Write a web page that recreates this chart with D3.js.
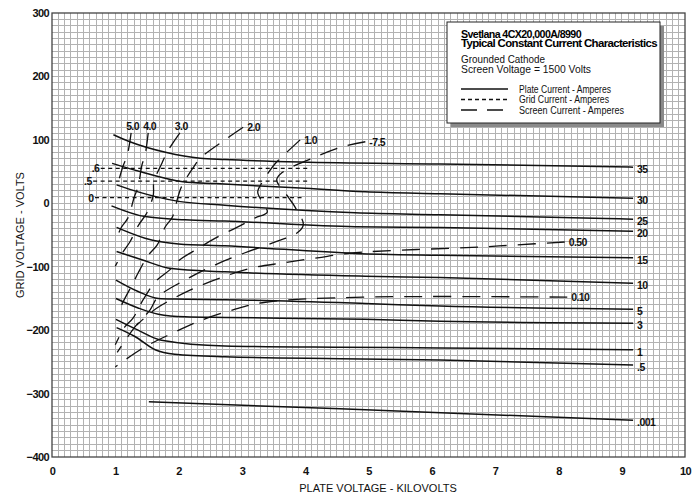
<!DOCTYPE html>
<html>
<head>
<meta charset="utf-8">
<style>
  body { margin: 0; background: #fff; }
  svg { display: block; }
  .bold-narrow { font-family: 'Liberation Sans', Arial, sans-serif; font-weight: bold; letter-spacing: -0.6px; }
  .axis text { font-family: 'Liberation Sans', Arial, sans-serif; font-weight: bold; font-size: 11px; letter-spacing: -0.6px; fill: #111; }
  .axis .domain { display: none; }
  .axis-title { font-family: 'Liberation Sans', Arial, sans-serif; font-size: 11px; fill: #111; }
  .curve-label { font-size: 10.5px; fill: #111; }
  .legend-text { font-family: 'Liberation Sans', Arial, sans-serif; font-size: 10.5px; fill: #111; }
  .legend-item { font-family: 'Liberation Sans', Arial, sans-serif; font-size: 10px; fill: #111; }
</style>
</head>
<body>
<svg width="695" height="496"></svg>
<script src="https://d3js.org/d3.v7.min.js"></script>
<script>
// axis ticks
const xTicks = [0, 1, 2, 3, 4, 5, 6, 7, 8, 9, 10];
const yTicks = [300, 200, 100, 0, -100, -200, -300, -400];

// plate current curves, [kilovolts, grid volts], labelled at right end
const plateLabels = ["35", "30", "25", "20", "15", "10", "5", "3", "1", ".5", ".001"];
const plateCurves = [
  [[0.97, 108], [1.23, 97], [1.81, 80], [2.34, 71], [2.73, 69], [3.92, 65], [6.13, 62], [9.18, 57]],
  [[0.95, 63], [1.39, 50], [2.07, 34], [2.58, 31], [3.92, 24], [4.95, 18], [6.13, 15], [9.18, 8]],
  [[1.02, 29], [1.36, 18], [2.0, 3], [2.73, -3], [4.79, -15], [6.13, -18], [8.74, -24], [9.18, -25]],
  [[0.94, -4], [1.47, -21], [2.1, -26], [2.73, -28], [4.79, -37], [6.13, -38], [9.18, -44]],
  [[1.02, -38], [1.47, -55], [2.0, -64], [2.73, -67], [4.79, -79], [6.13, -82], [9.18, -86]],
  [[1.02, -76], [1.42, -89], [1.89, -103], [2.73, -108], [4.95, -115], [6.13, -117], [9.18, -126]],
  [[1.01, -121], [1.36, -139], [1.68, -150], [1.94, -151], [2.73, -152], [4.95, -158], [6.13, -162], [9.18, -167]],
  [[1.01, -150], [1.36, -165], [1.68, -175], [2.1, -179], [2.73, -180], [4.95, -183], [6.13, -186], [9.18, -189]],
  [[1.01, -183], [1.36, -200], [1.73, -216], [2.73, -225], [4.55, -227], [6.13, -228], [9.18, -231]],
  [[1.02, -196], [1.31, -210], [1.63, -231], [1.94, -238], [2.73, -242], [4.55, -245], [6.13, -247], [9.18, -255]],
  [[1.53, -313], [4.55, -324], [9.18, -342]]
];

// grid current curves (short dash)
const gridLabels = [".6", ".5", "0"];
const gridCurves = [
  [[0.77, 55], [4.09, 55]],
  [[0.65, 35], [4.04, 35]],
  [[0.68, 9], [3.97, 9]]
];

// screen current curves (long dash)
const screenLabels = ["5.0", "4.0", "3.0", "2.0", "1.0", "-7.5", "0.50", "0.10"];
const screenCurves = [
  [[1.25, 111], [1.19, 76], [1.12, 58], [1.03, 27]],
  [[1.52, 111], [1.47, 76], [1.42, 60], [1.36, 26], [1.30, 10], [1.20, -23], [1.09, -39], [1.0, -61]],
  [[2.02, 111], [1.82, 81], [1.74, 64], [1.61, 34], [1.60, 13], [1.50, -15], [1.37, -34], [1.23, -61], [1.12, -77], [1.0, -99]],
  [[3.02, 120], [2.73, 100], [2.34, 71], [2.23, 56], [2.05, 27], [1.99, 10], [1.90, -22], [1.79, -37], [1.66, -66], [1.52, -82], [1.36, -110], [1.28, -126], [1.12, -156], [1.03, -176]],
  [[3.92, 100], [3.63, 73], [3.52, 62], [3.32, 33], [3.25, 18], [3.32, 2], [3.40, -14], [3.21, -23], [2.92, -38], [2.58, -55], [2.31, -71], [2.02, -89], [1.86, -105], [1.63, -124], [1.44, -152], [1.28, -181], [1.15, -195], [1.0, -223]],
  [[4.95, 97], [4.58, 89], [4.11, 71], [3.63, 48], [3.55, 37], [3.73, 10], [3.84, -6], [3.97, -34], [3.87, -47], [3.55, -60], [3.05, -78], [2.58, -97], [2.10, -121], [1.67, -148], [1.55, -168], [1.31, -195], [1.03, -235]],
  [[8.10, -61], [7.27, -66], [6.76, -69], [4.79, -78], [4.19, -86], [3.65, -94], [3.16, -102], [2.65, -118], [2.18, -137], [1.74, -160], [1.55, -173], [1.34, -192]],
  [[8.14, -148], [4.91, -148], [3.37, -156], [2.86, -168], [2.37, -184], [1.90, -205], [1.44, -228], [1.0, -258]]
];

const svg = d3.select("svg");
const margin = { top: 13, right: 10, bottom: 39, left: 52 };
const width = 695, height = 496;

const x = d3.scaleLinear().domain([0, 10]).range([margin.left, width - margin.right]);
const y = d3.scaleLinear().domain([-400, 300]).range([height - margin.bottom, margin.top]);

// graph paper grid
const grid = svg.append("g").attr("class", "grid")
  .attr("stroke", "#b2b2b2").attr("stroke-width", 1).attr("shape-rendering", "crispEdges");

grid.selectAll(".v").data(d3.range(1, 100)).join("line")
  .attr("x1", d => x(d / 10)).attr("x2", d => x(d / 10))
  .attr("y1", y(300)).attr("y2", y(-400));

grid.selectAll(".h").data(d3.range(-39, 30)).join("line")
  .attr("x1", x(0)).attr("x2", x(10))
  .attr("y1", d => y(d * 10)).attr("y2", d => y(d * 10));

svg.append("rect")
  .attr("x", x(0)).attr("y", y(300))
  .attr("width", x(10) - x(0)).attr("height", y(-400) - y(300))
  .attr("fill", "none").attr("stroke", "#444").attr("stroke-width", 1.3);

// axes
svg.append("g").attr("class", "axis")
  .attr("transform", `translate(${x(0)},0)`)
  .call(d3.axisLeft(y).tickValues(yTicks).tickSize(0).tickPadding(3).tickFormat(d3.format("d")));

svg.append("g").attr("class", "axis")
  .attr("transform", `translate(0,${y(-400)})`)
  .call(d3.axisBottom(x).tickValues(xTicks).tickSize(0).tickPadding(10).tickFormat(d3.format("d")));

svg.append("text").attr("class", "axis-title")
  .attr("transform", `translate(24,${y(-50)}) rotate(-90)`)
  .attr("text-anchor", "middle")
  .text("GRID VOLTAGE - VOLTS");

svg.append("text").attr("class", "axis-title")
  .attr("x", 378).attr("y", 492)
  .attr("text-anchor", "middle")
  .text("PLATE VOLTAGE - KILOVOLTS");

// curves
const smooth = d3.line().x(d => x(d[0])).y(d => y(d[1])).curve(d3.curveMonotoneX);
const bendy = d3.line().x(d => x(d[0])).y(d => y(d[1])).curve(d3.curveCatmullRom.alpha(0.5));

svg.append("g").selectAll("path").data(gridCurves).join("path")
  .attr("d", bendy)
  .attr("fill", "none").attr("stroke", "#111").attr("stroke-width", 1.2)
  .attr("stroke-dasharray", "4,3.5");

svg.append("g").selectAll("path").data(screenCurves).join("path")
  .attr("d", bendy)
  .attr("fill", "none").attr("stroke", "#111").attr("stroke-width", 1.3)
  .attr("stroke-dasharray", "18,11");

svg.append("g").selectAll("path").data(plateCurves).join("path")
  .attr("d", smooth)
  .attr("fill", "none").attr("stroke", "#111").attr("stroke-width", 1.5);

// curve labels
svg.append("g").selectAll("text").data(plateCurves).join("text")
  .attr("class", "curve-label bold-narrow")
  .attr("x", d => x(d[d.length - 1][0]) + 4)
  .attr("y", d => y(d[d.length - 1][1]) + 6)
  .text((d, i) => plateLabels[i]);

svg.append("g").selectAll("text").data(gridCurves).join("text")
  .attr("class", "curve-label bold-narrow")
  .attr("text-anchor", "end")
  .attr("x", d => x(d[0][0]) - 1.5)
  .attr("y", d => y(d[0][1]) + 4)
  .text((d, i) => gridLabels[i]);

svg.append("g").selectAll("text").data(screenCurves).join("text")
  .attr("class", "curve-label bold-narrow")
  .attr("x", (d, i) => i < 3 ? x(d[0][0]) - 5 : x(d[0][0]) + 4)
  .attr("y", (d, i) => i < 3 ? y(d[0][1]) - 3 : y(d[0][1]) + 4)
  .text((d, i) => screenLabels[i]);

// legend box
const lg = svg.append("g").attr("transform", "translate(447,22)");
lg.append("rect").attr("x", 4).attr("y", 4).attr("width", 213).attr("height", 101).attr("fill", "#8a8a8a");
lg.append("rect").attr("width", 213).attr("height", 101).attr("fill", "#fff").attr("stroke", "#222").attr("stroke-width", 1);

lg.append("text").attr("class", "bold-narrow").attr("x", 14).attr("y", 15.5).attr("font-size", "10.5px")
  .attr("textLength", 120).attr("lengthAdjust", "spacingAndGlyphs")
  .text("Svetlana 4CX20,000A/8990");
lg.append("text").attr("class", "bold-narrow").attr("x", 14).attr("y", 25).attr("font-size", "10.5px")
  .attr("textLength", 196).attr("lengthAdjust", "spacingAndGlyphs")
  .text("Typical Constant Current Characteristics");
lg.append("text").attr("class", "legend-text").attr("x", 14).attr("y", 41)
  .attr("textLength", 84).attr("lengthAdjust", "spacingAndGlyphs")
  .text("Grounded Cathode");
lg.append("text").attr("class", "legend-text").attr("x", 14).attr("y", 51)
  .attr("textLength", 130).attr("lengthAdjust", "spacingAndGlyphs")
  .text("Screen Voltage = 1500 Volts");

const legendItems = ["Plate Current - Amperes", "Grid Current - Amperes", "Screen Current - Amperes"];
const legendWidths = [92, 90, 105];
const legendDash = [null, "4,3", "16,10"];
legendItems.forEach((t, i) => {
  const yy = 67 + i * 10.5;
  lg.append("line").attr("x1", 14).attr("x2", 61).attr("y1", yy).attr("y2", yy)
    .attr("stroke", "#111").attr("stroke-width", 1.3)
    .attr("stroke-dasharray", legendDash[i]);
  lg.append("text").attr("class", "legend-item").attr("x", 72).attr("y", yy + 3.5)
    .attr("textLength", legendWidths[i]).attr("lengthAdjust", "spacingAndGlyphs")
    .text(t);
});
</script>
</body>
</html>
